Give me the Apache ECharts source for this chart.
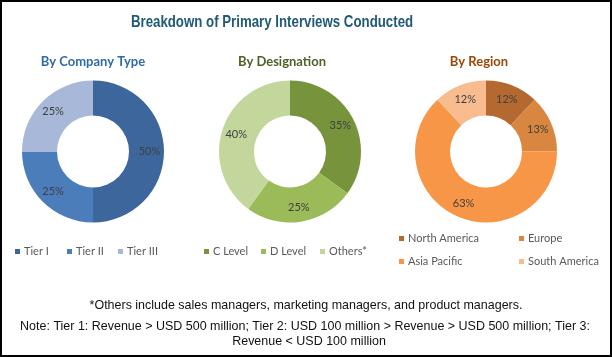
<!DOCTYPE html>
<html>
<head>
<meta charset="utf-8">
<script src="https://cdn.jsdelivr.net/npm/echarts@6/dist/echarts.min.js"></script>
<style>
html,body{margin:0;padding:0;background:#fff;}
#chart{width:612px;height:357px;}
</style>
</head>
<body>
<div id="chart"></div>
<script>
const titleText = 'Breakdown of Primary Interviews Conducted';
const subtitles = ['By Company Type', 'By Designation', 'By Region'];
const companyTypes = ['Tier I', 'Tier II', 'Tier III'];
const companyValues = [50, 25, 25];
const designations = ['C Level', 'D Level', 'Others*'];
const designationValues = [35, 25, 40];
const regions = ['North America', 'Europe', 'Asia Pacific', 'South America'];
const regionValues = [12, 13, 63, 12];
const footnotes = [
  '*Others include sales managers, marketing managers, and product managers.',
  'Note: Tier 1: Revenue > USD 500 million; Tier 2: USD 100 million > Revenue > USD 500 million; Tier 3:',
  'Revenue < USD 100 million'
];

const companyColors = ['#3D679C', '#4A7DBA', '#A7B8D8'];
const designationColors = ['#77933C', '#9BBB59', '#C3D69B'];
const regionColors = ['#B3692F', '#D98740', '#F79646', '#F9BC8F'];

const bodyFont = 'Lato, "Open Sans", sans-serif';
const noteFont = '"Liberation Sans", Arial, sans-serif';

function pieData(names, values, colors) {
  return names.map((n, i) => ({ name: n, value: values[i], itemStyle: { color: colors[i] } }));
}

function pieSeries(names, values, colors, cx) {
  return {
    type: 'pie',
    radius: [36, 71],
    center: [cx, 151.5],
    startAngle: 90,
    clockwise: true,
    avoidLabelOverlap: false,
    silent: true,
    itemStyle: { borderWidth: 0 },
    label: {
      show: true,
      position: 'inside',
      formatter: '{c}%',
      color: '#404040',
      fontFamily: bodyFont,
      fontSize: 11
    },
    labelLine: { show: false },
    emphasis: { disabled: true },
    data: pieData(names, values, colors)
  };
}

function legendItem(name, left, top) {
  return {
    data: [name],
    left: left,
    top: top,
    orient: 'horizontal',
    padding: 0,
    itemGap: 0,
    itemWidth: 5,
    itemHeight: 5,
    icon: 'rect',
    selectedMode: false,
    textStyle: { color: '#595959', fontFamily: bodyFont, fontSize: 11, padding: [0, 0, 0, -1] }
  };
}

const chart = echarts.init(document.getElementById('chart'), null, { renderer: 'canvas' });

const option = {
  animation: false,
  backgroundColor: '#ffffff',
  legend: [
    legendItem(companyTypes[0], 15, 246),
    legendItem(companyTypes[1], 67, 246),
    legendItem(companyTypes[2], 118, 246),
    legendItem(designations[0], 204, 246),
    legendItem(designations[1], 261, 246),
    legendItem(designations[2], 320, 246),
    legendItem(regions[0], 399, 233),
    legendItem(regions[1], 519, 233),
    legendItem(regions[2], 399, 256),
    legendItem(regions[3], 519, 256)
  ],
  graphic: [
    { type: 'rect', shape: { x: 1, y: 1, width: 610, height: 355 }, style: { fill: 'none', stroke: '#000', lineWidth: 2 }, silent: true },
    { type: 'text', x: 272, y: 22, scaleX: 0.78, style: { text: titleText, textAlign: 'center', textVerticalAlign: 'middle', fill: '#215A78', font: 'bold 17px "Liberation Sans Narrow", "Liberation Sans", sans-serif' } },
    { type: 'text', x: 93, y: 62, style: { text: subtitles[0], textAlign: 'center', textVerticalAlign: 'middle', fill: '#2F6BA8', font: 'bold 13px ' + bodyFont } },
    { type: 'text', x: 282, y: 62, style: { text: subtitles[1], textAlign: 'center', textVerticalAlign: 'middle', fill: '#4F6228', font: 'bold 13px ' + bodyFont } },
    { type: 'text', x: 479, y: 62, style: { text: subtitles[2], textAlign: 'center', textVerticalAlign: 'middle', fill: '#984807', font: 'bold 13px ' + bodyFont } },
    { type: 'text', x: 306, y: 305, scaleX: 0.96, style: { text: footnotes[0], textAlign: 'center', textVerticalAlign: 'middle', fill: '#111', font: '13px ' + noteFont } },
    { type: 'text', x: 305, y: 326, scaleX: 0.96, style: { text: footnotes[1], textAlign: 'center', textVerticalAlign: 'middle', fill: '#111', font: '13px ' + noteFont } },
    { type: 'text', x: 309, y: 341, scaleX: 0.96, style: { text: footnotes[2], textAlign: 'center', textVerticalAlign: 'middle', fill: '#111', font: '13px ' + noteFont } }
  ],
  series: [
    pieSeries(companyTypes, companyValues, companyColors, 93),
    pieSeries(designations, designationValues, designationColors, 290),
    pieSeries(regions, regionValues, regionColors, 486)
  ]
};
chart.setOption(option);
</script>
</body>
</html>
